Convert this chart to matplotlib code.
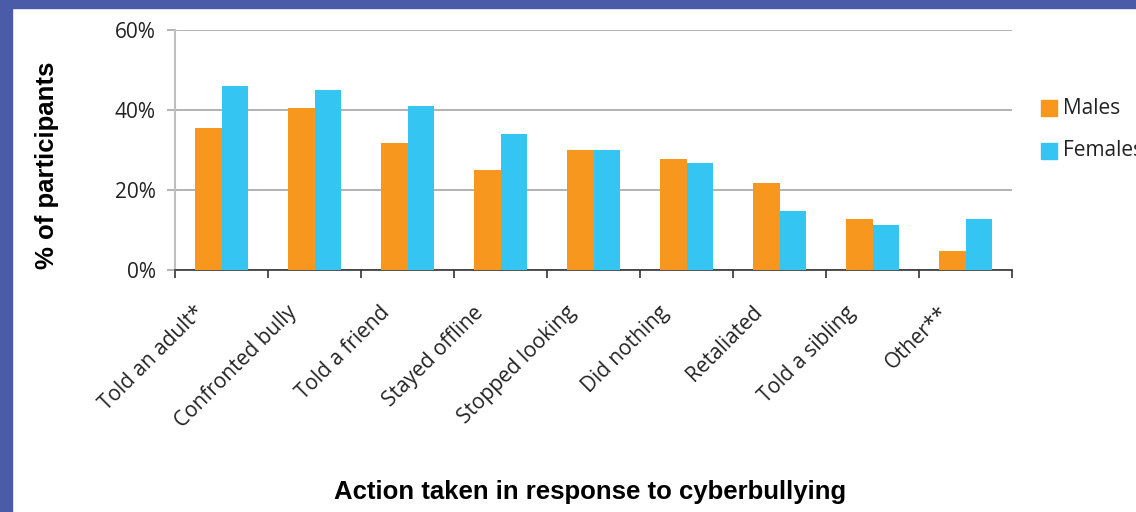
import matplotlib.pyplot as plt
import matplotlib.patches as mpatches
import numpy as np

categories = ['Told an adult*', 'Confronted bully', 'Told a friend', 'Stayed offline',
              'Stopped looking', 'Did nothing', 'Retaliated', 'Told a sibling', 'Other**']
males = [35.5, 40.5, 31.75, 25, 30, 27.75, 21.75, 12.75, 4.75]
females = [46, 45, 41, 34, 30, 26.75, 14.75, 11.25, 12.75]
yticks = [0, 20, 40, 60]

orange = '#f7971e'
cyan = '#35c5f2'
border = '#4a5ba8'

fig = plt.figure(figsize=(11.36, 5.12), dpi=100)
fig.patches.append(mpatches.Rectangle((0, 0), 12 / 1136, 1, transform=fig.transFigure,
                                      color=border, zorder=0))
fig.patches.append(mpatches.Rectangle((0, 1 - 8 / 512), 1, 8 / 512, transform=fig.transFigure,
                                      color=border, zorder=0))

ax = fig.add_axes([175 / 1136, 1 - 270 / 512, (1012 - 175) / 1136, 240 / 512])
x = np.arange(len(categories))
w = 0.29
ax.bar(x - w / 2, males, w, color=orange, zorder=3)
ax.bar(x + w / 2, females, w, color=cyan, zorder=3)

ax.set_xlim(-0.5, len(categories) - 0.5)
ax.set_ylim(0, 60)
ax.set_yticks(yticks)
ax.set_yticklabels([f'{v}%' for v in yticks], fontsize=15, color='#222222', family='Open Sans')
ax.yaxis.grid(True, color='#a6a6a6', linewidth=1.2, zorder=0)
ax.tick_params(axis='y', length=6, color='#a6a6a6', width=1.2, pad=8)

ax.set_xticks(np.arange(len(categories) + 1) - 0.5)
ax.set_xticklabels([])
ax.tick_params(axis='x', length=6, color='#333333', width=1.2)
for i, c in enumerate(categories):
    ax.text(i - 0.3, -8, c, rotation=45, ha='right', va='top', rotation_mode='anchor',
            fontsize=15, color='#222222', family='Open Sans', transform=ax.transData,
            clip_on=False)

for s in ['top', 'right']:
    ax.spines[s].set_visible(False)
ax.spines['left'].set_color('#bfbfbf')
ax.spines['left'].set_linewidth(1.5)
ax.spines['bottom'].set_color('#333333')
ax.spines['bottom'].set_linewidth(1.2)

fig.text(47 / 1136, 1 - 165 / 512, '% of participants', rotation=90, ha='center', va='center',
         fontsize=18.5, fontweight='bold', family='Liberation Sans')
fig.text(590 / 1136, 1 - 492 / 512, 'Action taken in response to cyberbullying', ha='center',
         va='center', fontsize=18.5, fontweight='bold', family='Liberation Sans')

for lbl, col, yc in [('Males', orange, 108), ('Females', cyan, 151)]:
    fig.patches.append(mpatches.Rectangle((1041 / 1136, 1 - (yc + 8) / 512), 16 / 1136, 16 / 512,
                                          transform=fig.transFigure, color=col))
    fig.text(1063 / 1136, 1 - yc / 512, lbl, ha='left', va='center', fontsize=15,
             color='#222222', family='Open Sans')

fig.savefig('out.png', dpi=100)
